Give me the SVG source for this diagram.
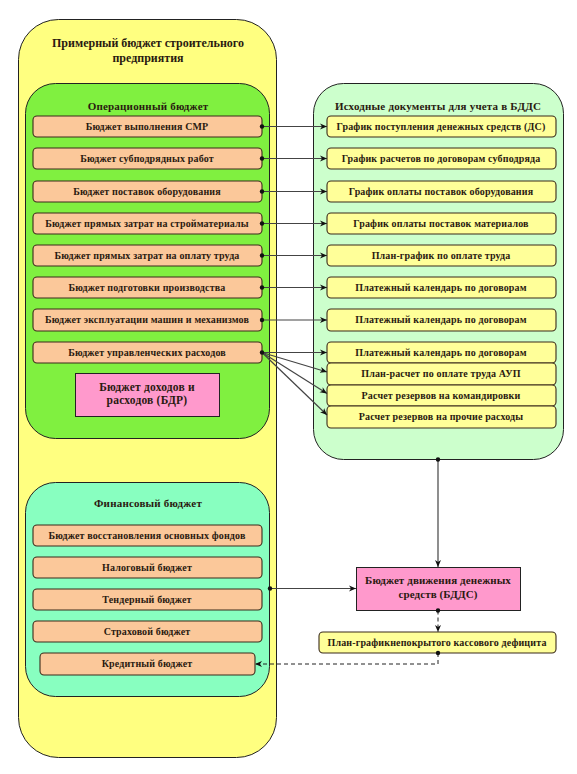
<svg xmlns="http://www.w3.org/2000/svg" width="577" height="774" viewBox="0 0 577 774">
<style>
text{font-family:"Liberation Serif","Times New Roman",serif;font-weight:bold;fill:#2a1a10;text-anchor:middle}
.t{font-size:10px;letter-spacing:0.15px}
.h{font-size:11px;letter-spacing:0.2px}
.p{font-size:11.5px;letter-spacing:0.2px}
.q{font-size:11px;letter-spacing:0.1px}
.big{font-size:12px}
.ob{fill:#FBC89A;stroke:#3a2a1a;stroke-width:1.1}
.yb{fill:#FFFF99;stroke:#3a2a1a;stroke-width:1.1}
.pk{fill:#FF99CC;stroke:#222;stroke-width:1}
.c{fill:none;stroke:#444;stroke-width:1.2}
.d{fill:none;stroke:#222;stroke-width:1;stroke-dasharray:4,3}
.dot{fill:#111}
</style>
<defs>
<marker id="a" markerWidth="8" markerHeight="8" refX="7" refY="4" orient="auto" markerUnits="userSpaceOnUse">
<path d="M0,1 L7,4 L0,7 L2,4 Z" fill="#111"/>
</marker>
</defs>
<rect width="577" height="774" fill="#fff"/>
<g id="outer">
<rect x="18.5" y="19.5" width="258" height="738" rx="40" fill="#FFFF80" stroke="#222" stroke-width="1"/>
<text class="big" x="148" y="47">Примерный бюджет строительного</text>
<text class="big" x="148" y="62">предприятия</text>
</g>
<g id="operational">
<rect x="25.5" y="83.5" width="244" height="355" rx="30" fill="#80F040" stroke="#222" stroke-width="1"/>
<text class="h" x="148" y="110">Операционный бюджет</text>
</g>
<g id="op1"><rect class="ob" x="33" y="116" width="229" height="21" rx="4"/><text class="t" x="147" y="130">Бюджет выполнения СМР</text></g>
<g id="op2"><rect class="ob" x="33" y="148" width="229" height="21" rx="4"/><text class="t" x="147" y="162">Бюджет субподрядных работ</text></g>
<g id="op3"><rect class="ob" x="33" y="181" width="229" height="21" rx="4"/><text class="t" x="147" y="195">Бюджет поставок оборудования</text></g>
<g id="op4"><rect class="ob" x="33" y="213" width="229" height="21" rx="4"/><text class="t" x="147" y="227">Бюджет прямых затрат на стройматериалы</text></g>
<g id="op5"><rect class="ob" x="33" y="245" width="229" height="21" rx="4"/><text class="t" x="147" y="259">Бюджет прямых затрат на оплату труда</text></g>
<g id="op6"><rect class="ob" x="33" y="277" width="229" height="21" rx="4"/><text class="t" x="147" y="291">Бюджет подготовки производства</text></g>
<g id="op7"><rect class="ob" x="33" y="309" width="229" height="22" rx="4"/><text class="t" x="147" y="323">Бюджет эксплуатации машин и механизмов</text></g>
<g id="op8"><rect class="ob" x="33" y="342" width="229" height="21" rx="4"/><text class="t" x="147" y="356">Бюджет управленческих расходов</text></g>
<g id="bdr"><rect class="pk" x="75.5" y="373.5" width="144" height="43"/><text class="p" x="147" y="391">Бюджет доходов и</text><text class="p" x="147" y="404">расходов (БДР)</text></g>
<g id="sources">
<rect x="313.5" y="83.5" width="250" height="376" rx="30" fill="#CCFFCC" stroke="#222" stroke-width="1"/>
<text class="h" x="438" y="110">Исходные документы для учета в БДДС</text>
</g>
<g id="s1"><rect class="yb" x="327" y="116" width="229" height="21" rx="4"/><text class="t" x="441" y="130">График поступления денежных средств (ДС)</text></g>
<g id="s2"><rect class="yb" x="327" y="148" width="229" height="21" rx="4"/><text class="t" x="441" y="162">График расчетов по договорам субподряда</text></g>
<g id="s3"><rect class="yb" x="327" y="181" width="229" height="21" rx="4"/><text class="t" x="441" y="195">График оплаты поставок оборудования</text></g>
<g id="s4"><rect class="yb" x="327" y="213" width="229" height="21" rx="4"/><text class="t" x="441" y="227">График оплаты поставок материалов</text></g>
<g id="s5"><rect class="yb" x="327" y="245" width="229" height="21" rx="4"/><text class="t" x="441" y="259">План-график по оплате труда</text></g>
<g id="s6"><rect class="yb" x="327" y="277" width="229" height="21" rx="4"/><text class="t" x="441" y="291">Платежный календарь по договорам</text></g>
<g id="s7"><rect class="yb" x="327" y="309" width="229" height="22" rx="4"/><text class="t" x="441" y="323">Платежный календарь по договорам</text></g>
<g id="s8"><rect class="yb" x="327" y="342" width="229" height="21" rx="4"/><text class="t" x="441" y="356">Платежный календарь по договорам</text></g>
<g id="s9"><rect class="yb" x="327" y="363" width="229" height="22" rx="4"/><text class="t" x="441" y="377">План-расчет по оплате труда АУП</text></g>
<g id="s10"><rect class="yb" x="327" y="385" width="229" height="21" rx="4"/><text class="t" x="441" y="399">Расчет резервов на командировки</text></g>
<g id="s11"><rect class="yb" x="327" y="406" width="229" height="22" rx="4"/><text class="t" x="441" y="420">Расчет резервов на прочие расходы</text></g>
<g id="financial">
<rect x="25.5" y="482.5" width="244" height="214" rx="30" fill="#88FFC0" stroke="#222" stroke-width="1"/>
<text class="h" x="148" y="507">Финансовый бюджет</text>
</g>
<g id="f1"><rect class="ob" x="33" y="525" width="229" height="21" rx="4"/><text class="t" x="147" y="539">Бюджет восстановления основных фондов</text></g>
<g id="f2"><rect class="ob" x="33" y="557" width="229" height="21" rx="4"/><text class="t" x="147" y="571">Налоговый бюджет</text></g>
<g id="f3"><rect class="ob" x="33" y="589" width="229" height="21" rx="4"/><text class="t" x="147" y="603">Тендерный бюджет</text></g>
<g id="f4"><rect class="ob" x="33" y="621" width="229" height="21" rx="4"/><text class="t" x="147" y="635">Страховой бюджет</text></g>
<g id="f5"><rect class="ob" x="40" y="653" width="215" height="22" rx="4"/><text class="t" x="147" y="667">Кредитный бюджет</text></g>
<g id="bdds"><rect class="pk" x="356.5" y="567.5" width="164" height="43"/><text class="q" x="438" y="584">Бюджет движения денежных</text><text class="q" x="438" y="598">средств (БДДС)</text></g>
<g id="deficit"><rect class="yb" x="319" y="632" width="237" height="21" rx="4"/><text class="t" x="437" y="646">План-графикнепокрытого кассового дефицита</text></g>
<g id="connectors">
<path class="c" d="M262,126.5 H327" marker-end="url(#a)"/>
<path class="c" d="M262,158.5 H327" marker-end="url(#a)"/>
<path class="c" d="M262,191.5 H327" marker-end="url(#a)"/>
<path class="c" d="M262,223.5 H327" marker-end="url(#a)"/>
<path class="c" d="M262,255.5 H327" marker-end="url(#a)"/>
<path class="c" d="M262,287.5 H327" marker-end="url(#a)"/>
<path class="c" d="M262,320 H327" marker-end="url(#a)"/>
<path class="c" d="M262,352.5 H327" marker-end="url(#a)"/>
<path class="c" d="M262,352.5 L327,372" marker-end="url(#a)"/>
<path class="c" d="M262,352.5 L327,393.5" marker-end="url(#a)"/>
<path class="c" d="M262,352.5 L327,415" marker-end="url(#a)"/>
<path class="c" d="M438,459.5 V567" marker-end="url(#a)"/>
<path class="c" d="M270,588.5 H356" marker-end="url(#a)"/>
<path class="d" d="M438,610.5 V632" marker-end="url(#a)"/>
<path class="d" d="M438,653 V664 H255" marker-end="url(#a)"/>
<circle class="dot" cx="262" cy="126.5" r="2.2"/>
<circle class="dot" cx="262" cy="158.5" r="2.2"/>
<circle class="dot" cx="262" cy="191.5" r="2.2"/>
<circle class="dot" cx="262" cy="223.5" r="2.2"/>
<circle class="dot" cx="262" cy="255.5" r="2.2"/>
<circle class="dot" cx="262" cy="287.5" r="2.2"/>
<circle class="dot" cx="262" cy="320" r="2.2"/>
<circle class="dot" cx="262" cy="352.5" r="2.2"/>
<circle class="dot" cx="438" cy="459.5" r="2.2"/>
<circle class="dot" cx="270" cy="588.5" r="2.2"/>
<circle class="dot" cx="438" cy="610.5" r="2.2"/>
<circle class="dot" cx="438" cy="653" r="2.2"/>
</g>
</svg>
